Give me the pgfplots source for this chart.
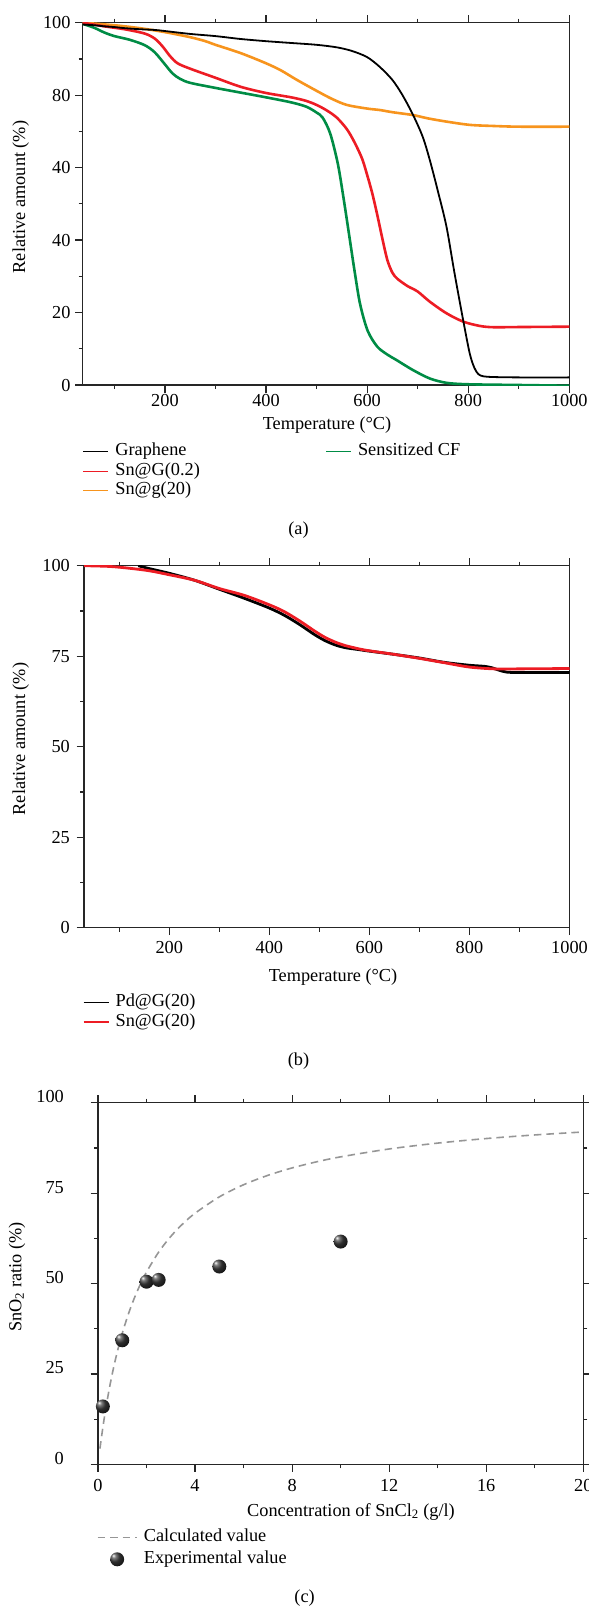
\documentclass[border=0pt]{standalone}
\usepackage{fontspec}
\setmainfont{Liberation Serif}
\usepackage{pgfplots}
\pgfplotsset{compat=1.18}
\definecolor{cred}{RGB}{237,28,36}
\definecolor{corange}{RGB}{247,148,29}
\definecolor{cgreen}{RGB}{0,140,69}
\definecolor{cgray}{RGB}{150,150,150}
\newcommand{\fs}{\fontsize{18.3bp}{22bp}\selectfont}
\pgfdeclareradialshading{myball}{\pgfqpoint{-14bp}{14bp}}{color(0bp)=(white); color(7bp)=(black!50); color(18bp)=(black!82); color(32bp)=(black!92); color(60bp)=(black)}
\pgfdeclareplotmark{myball}{\pgfpathcircle{\pgfpointorigin}{\pgfplotmarksize}\pgfshadepath{myball}{0}\pgfusepath{}}
\pgfplotsset{
  myaxis/.style={
    scale only axis,
    anchor=south west,
    axis line style={line width=1.3bp, black!85},
    every tick/.style={line width=1.2bp, black!85},
    tick align=outside,
    major tick length=7.5bp,
    minor tick length=4bp,
    ticklabel style={font=\fs, inner sep=0pt},
    /pgf/number format/assume math mode=true,
    /pgf/number format/1000 sep={},
    legend cell align=left,
    legend style={draw=none, fill=none, inner sep=0pt, outer sep=0pt, font=\fs,
      row sep=2.1bp,
      nodes={inner xsep=6.3bp, inner ysep=0pt, text height=12.8bp, text depth=4.6bp}},
    legend image code/.code={\draw[##1] (0bp,0bp) -- (25bp,0bp);},
  },
  dashlegend/.style={legend image code/.code={\draw[##1] (0bp,0bp) -- (39.3bp,0bp);}},
  balllegend/.style={legend image code/.code={\draw[##1] plot coordinates {(19.65bp,0bp)};}},
}
\begin{document}
\begin{tikzpicture}
\path[use as bounding box] (0,0) rectangle (589bp,-1606bp);
% ---------------- (a)
\begin{axis}[myaxis, at={(82.7bp,-385bp)}, width=486.6bp, height=362.3bp,
  xmin=37.3, xmax=1000, ymin=0, ymax=100,
  xtick={200,400,...,1000}, minor xtick={100,300,...,900},
  ytick={0,20,...,100}, minor ytick={10,30,...,90},
  yticklabels={0,20,40,40,80,100},
  ytick pos=left,
  xticklabel style={anchor=center, yshift=-7.5bp},
  yticklabel style={anchor=east, xshift=-4.5bp},
  legend columns=2,
  legend style={at={(0,0)}, anchor=north west, xshift=0.1bp, yshift=-58bp,
    /tikz/every even column/.append style={column sep=119.3bp}},
]
\addplot[corange, line width=2.6bp, smooth, tension=0.5, forget plot] coordinates {
(37.3,100) (100,99.3) (150,98.5) (200,97.4) (250,96.0) (280,94.9) (300,93.9) (350,91.6) (400,88.8) (430,86.8) (460,84.3) (500,81.2) (530,79.0) (560,77.3) (600,76.3) (625,75.9) (650,75.3) (691,74.5) (720,73.6) (757,72.7) (803,71.8) (849,71.5) (900,71.3) (1000,71.3)};
\addplot[cgreen, line width=2.6bp, smooth, tension=0.5, forget plot] coordinates {
(37.3,99.7) (60,98.6) (80,97.3) (100,96.3) (130,95.3) (160,93.8) (180,91.8) (200,88.5) (215,86.0) (230,84.5) (250,83.4) (300,82.0) (350,80.7) (400,79.4) (450,78.0) (480,76.8) (500,75.2) (512,73.8) (527,69.4) (542,61.1) (553,51.9) (564,41.8) (575,31.6) (586,22.4) (601,15.0) (620,10.6) (640,8.4) (658,6.9) (691,4.1) (724,1.8) (757,0.6) (800,0.2) (900,0.0) (1000,-0.2)};
\addplot[cred, line width=2.6bp, smooth, tension=0.5, forget plot] coordinates {
(37.3,100) (80,99.0) (120,98.2) (160,97.0) (180,95.6) (195,93.5) (210,90.8) (225,88.8) (250,87.3) (300,84.8) (350,82.3) (400,80.6) (450,79.4) (480,78.4) (500,77.3) (520,75.8) (540,73.8) (560,70.6) (575,67.0) (590,62.5) (600,58.0) (610,53.0) (620,47.0) (630,40.5) (640,34.5) (650,31.0) (660,29.3) (680,27.3) (700,25.8) (724,23.0) (757,19.8) (790,17.5) (823,16.3) (850,15.95) (900,16.0) (1000,16.1)};
\addplot[black, line width=1.8bp, smooth, tension=0.5, forget plot] coordinates {
(37.3,99.5) (60,99.3) (80,99.0) (100,98.8) (120,98.5) (150,98.2) (180,98.0) (200,97.7) (250,96.9) (300,96.3) (350,95.5) (400,94.9) (450,94.4) (500,93.9) (540,93.2) (570,92.2) (600,90.5) (625,87.8) (650,84.2) (670,80.0) (691,74.5) (710,68.5) (724,62.1) (740,53.5) (757,43.7) (773,30.8) (790,17.9) (803,8.7) (812,4.8) (820,3.0) (830,2.4) (850,2.2) (900,2.1) (1000,2.1)};
\addlegendimage{black, line width=1.3bp}\addlegendentry{Graphene}
\addlegendimage{cgreen, line width=1.3bp}\addlegendentry{Sensitized CF}
\addlegendimage{cred, line width=1.3bp}\addlegendentry{Sn@G(0.2)}
\addlegendimage{empty legend}\addlegendentry{}
\addlegendimage{corange, line width=1.3bp}\addlegendentry{Sn@g(20)}
\addlegendimage{empty legend}\addlegendentry{}
\end{axis}
\node[font=\fs] at (327bp,-425bp) {Temperature (°C)};
\node[font=\fs, rotate=90] at (20.7bp,-197bp) {Relative amount (\%)};
\node[font=\fs] at (298.5bp,-530bp) {(a)};
% ---------------- (b)
\begin{axis}[myaxis, at={(84bp,-927.7bp)}, width=485.5bp, height=362bp,
  xmin=29.5, xmax=1000, ymin=0, ymax=100,
  xtick={200,400,...,1000}, minor xtick={100,300,...,900},
  ytick={0,25,...,100}, minor ytick={12.5,37.5,62.5,87.5},
  ytick pos=left,
  xticklabel style={anchor=center, yshift=-11.8bp},
  yticklabel style={anchor=east, xshift=-6.5bp},
  legend style={at={(0,0)}, anchor=north west, xshift=-1bp, yshift=-66.1bp},
]
\addplot[black, line width=2.8bp, smooth, tension=0.5, forget plot] coordinates {
(138,100) (160,99.2) (200,97.9) (250,96.0) (300,93.5) (350,91.0) (400,88.3) (430,86.3) (460,83.8) (490,81.0) (510,79.4) (530,78.2) (550,77.4) (580,76.8) (600,76.4) (650,75.5) (700,74.5) (750,73.3) (800,72.5) (830,72.2) (845,71.8) (860,71.1) (875,70.6) (900,70.5) (1000,70.5)};
\addplot[cred, line width=2.8bp, smooth, tension=0.5, forget plot] coordinates {
(29.5,100) (80,99.8) (120,99.3) (160,98.6) (200,97.5) (250,96.0) (300,93.7) (350,91.8) (400,89.2) (430,87.3) (460,84.8) (490,82.0) (510,80.3) (530,79.0) (550,78.0) (580,77.0) (600,76.5) (650,75.5) (700,74.4) (750,73.2) (800,72.0) (850,71.5) (900,71.5) (1000,71.6)};
\addlegendimage{black, line width=1.3bp}\addlegendentry{Pd@G(20)}
\addlegendimage{cred, line width=1.3bp}\addlegendentry{Sn@G(20)}
\end{axis}
\node[font=\fs] at (333bp,-976.7bp) {Temperature (°C)};
\node[font=\fs, rotate=90] at (20.7bp,-739bp) {Relative amount (\%)};
\node[font=\fs] at (298.5bp,-1061bp) {(b)};
% ---------------- (c)
\begin{axis}[myaxis, at={(98bp,-1464.3bp)}, width=485.3bp, height=361.6bp,
  xmin=0, xmax=20, ymin=0, ymax=100,
  xtick={0,4,...,20}, minor xtick={2,6,...,18},
  ytick={0,25,...,100}, minor ytick={12.5,37.5,62.5,87.5},
  ytick pos=both, yticklabel pos=left,
  xticklabel style={anchor=center, yshift=-13.9bp},
  yticklabel style={anchor=east, xshift=-26.5bp, yshift=6bp},
  dashlegend,
  legend style={at={(0,0)}, anchor=north west, xshift=-1.3bp, yshift=-64.3bp, row sep=4.6bp},
]
\addplot[cgray, line width=1.6bp, dash pattern=on 7.5bp off 5bp, smooth, forget plot] coordinates {
(0.08,4.35) (0.15,7.85) (0.25,12.44) (0.35,16.59) (0.5,22.12) (0.65,26.97) (0.8,31.25) (1.0,36.23) (1.25,41.53) (1.5,46.01) (1.75,49.86) (2.0,53.19) (2.5,58.69) (3.0,63.03) (3.5,66.54) (4.0,69.44) (5.0,73.96) (6.0,77.32) (7.0,79.91) (8.0,81.97) (9.0,83.64) (10.0,85.03) (12.0,87.21) (14.0,88.83) (16.0,90.09) (18.0,91.09) (20.0,91.91)};
\addplot[only marks, mark=myball, mark size=7bp, forget plot] coordinates {
(0.2,16.0) (1,34.3) (2,50.5) (2.5,51.0) (5,54.7) (10,61.6)};
\addlegendimage{cgray, line width=1.6bp, dash pattern=on 7.5bp off 5bp}\addlegendentry{Calculated value}
\addlegendimage{only marks, mark=myball, mark size=7bp, balllegend}\addlegendentry{Experimental value}
\end{axis}
\node[font=\fs] at (351bp,-1511.6bp) {Concentration of SnCl\textsubscript{2} (g/l)};
\node[font=\fs, rotate=90] at (17bp,-1277bp) {SnO\textsubscript{2} ratio (\%)};
\node[font=\fs] at (304.6bp,-1598bp) {(c)};
\end{tikzpicture}
\end{document}
